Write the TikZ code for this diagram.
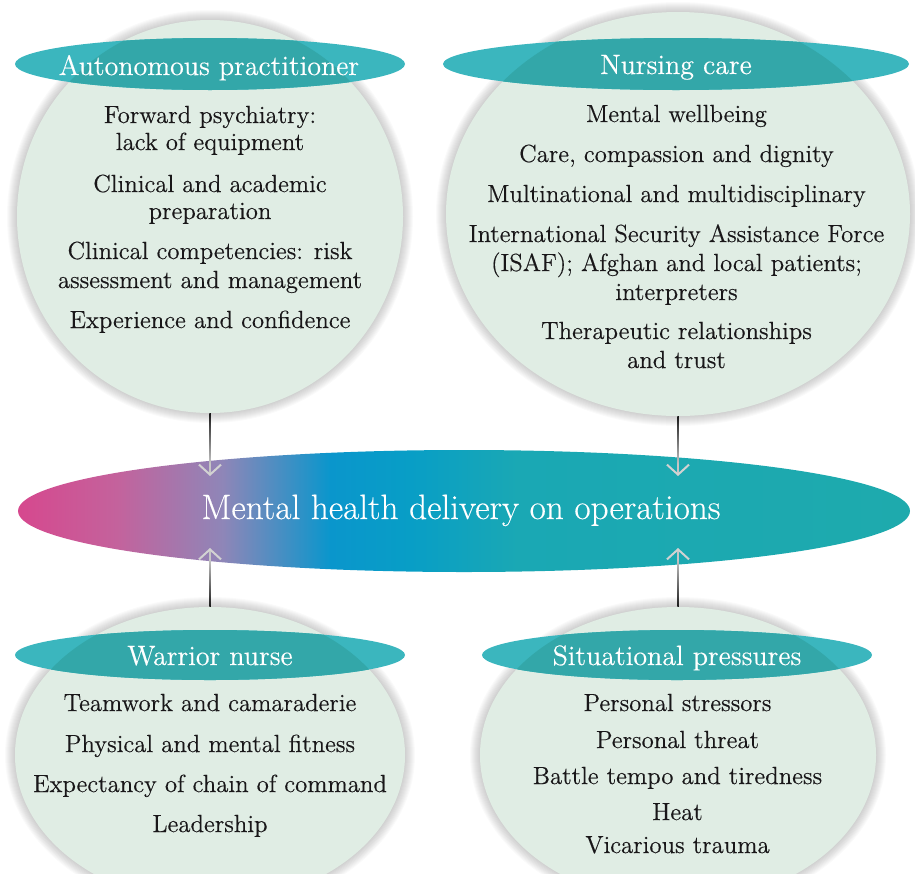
\documentclass[tikz,border=0pt]{standalone}
\usepackage{fontspec}
\setmainfont{Latin Modern Roman}[FakeBold=0.35]
\usetikzlibrary{shapes.geometric,arrows.meta,calc}
\definecolor{circfill}{RGB}{224,237,228}
\definecolor{hdrlight}{RGB}{59,182,190}
\definecolor{hdrdark}{RGB}{51,167,169}
\definecolor{bodytext}{RGB}{25,23,25}
\definecolor{gpink}{RGB}{214,72,142}
\definecolor{gpink2}{RGB}{196,98,156}
\definecolor{gpurple}{RGB}{142,134,184}
\definecolor{gblue}{RGB}{10,150,204}
\definecolor{gblue2}{RGB}{8,158,198}
\definecolor{gteal}{RGB}{26,168,180}
\definecolor{gteal2}{RGB}{30,170,173}
\pgfdeclarehorizontalshading{mhdshade}{100bp}{color(0bp)=(gpink); color(25bp)=(gpink); color(30.5bp)=(gpink2); color(36.5bp)=(gpurple); color(42.5bp)=(gblue); color(47bp)=(gblue2); color(53bp)=(gteal); color(75bp)=(gteal2); color(100bp)=(gteal2)}
\newcommand\softshadow[4]{%
  \foreach \d in {0.5,1,...,5}{%
    \fill[black,opacity=0.02] (#1,#2) ellipse [x radius={#3pt+\d pt}, y radius={#4pt+\d pt}];}}
\tikzset{
  circ/.style={ellipse, fill=circfill, inner sep=0pt},
  hdr/.style={ellipse, fill=hdrlight, inner sep=0pt},
  hdrtext/.style={text=white, font=\fontsize{14}{16}\selectfont, anchor=base, inner sep=0pt},
  item/.style={text=bodytext, font=\fontsize{12.4}{14}\selectfont, anchor=base, inner sep=0pt},
  bigtext/.style={text=white, font=\fontsize{17.6}{20}\selectfont, anchor=base, inner sep=0pt},
  conn/.style={draw=gray!45, line width=0.75pt, -{Straight Barb[length=5pt, width=11pt, line width=1pt, color=gray!35]}},
}
\begin{document}
\begin{tikzpicture}[x=0.5pt,y=-0.5pt]
\useasboundingbox (0,0) rectangle (915,873);
\clip (0,0) rectangle (915,873);
% shadows
\softshadow{210}{216.5}{96.5}{98.25}
\softshadow{678}{214}{116}{101}
\softshadow{210}{755}{97.5}{74}
\softshadow{678}{755}{99}{74}
% circles
\node[circ, minimum width=193pt, minimum height=196.5pt] (c1) at (210,216.5) {};
\node[circ, minimum width=232pt, minimum height=202pt] (c2) at (678,214) {};
\node[circ, minimum width=195pt, minimum height=148pt] (c3) at (210,755) {};
\node[circ, minimum width=198pt, minimum height=148pt] (c4) at (678,755) {};
% header ellipses
\node[hdr, minimum width=195pt, minimum height=26pt] (h1) at (210,64) {};
\node[hdr, minimum width=233pt, minimum height=26pt] (h2) at (676,64) {};
\node[hdr, minimum width=195pt, minimum height=25pt] (h3) at (210,655) {};
\node[hdr, minimum width=195pt, minimum height=25pt] (h4) at (677,655) {};
\begin{scope}
  \clip (210,216.5) ellipse [x radius=96.5pt, y radius=98.25pt];
  \fill[hdrdark] (210,64) ellipse [x radius=97.5pt, y radius=13pt];
\end{scope}
\begin{scope}
  \clip (678,214) ellipse [x radius=116pt, y radius=101pt];
  \fill[hdrdark] (676,64) ellipse [x radius=116.5pt, y radius=13pt];
\end{scope}
\begin{scope}
  \clip (210,755) ellipse [x radius=97.5pt, y radius=74pt];
  \fill[hdrdark] (210,655) ellipse [x radius=97.5pt, y radius=12.5pt];
\end{scope}
\begin{scope}
  \clip (678,755) ellipse [x radius=99pt, y radius=74pt];
  \fill[hdrdark] (677,655) ellipse [x radius=97.5pt, y radius=12.5pt];
\end{scope}
% header texts
\node[hdrtext] (h1t) at (209,75) {Autonomous practitioner};
\node[hdrtext] (h2t) at (676,74) {Nursing care};
\node[hdrtext] (h3t) at (210,665) {Warrior nurse};
\node[hdrtext] (h4t) at (677,665) {Situational pressures};
% top-left items
\node[item] (a1) at (210,123) {Forward psychiatry:};
\node[item] (a2) at (210,150) {lack of equipment};
\node[item] (a3) at (210,192) {Clinical and academic};
\node[item] (a4) at (210,219) {preparation};
\node[item] (a5) at (210,259) {Clinical competencies: risk};
\node[item] (a6) at (210,288) {assessment and management};
\node[item] (a7) at (210,328) {Experience and confidence};
% top-right items
\node[item] (b1) at (676.5,122) {Mental wellbeing};
\node[item] (b2) at (676.5,162) {Care, compassion and dignity};
\node[item] (b3) at (676.5,202) {Multinational and multidisciplinary};
\node[item] (b4) at (676.5,242) {International Security Assistance Force};
\node[item] (b5) at (676.5,271) {(ISAF); Afghan and local patients;};
\node[item] (b6) at (676.5,300) {interpreters};
\node[item] (b7) at (676.5,339) {Therapeutic relationships};
\node[item] (b8) at (676.5,368) {and trust};
% bottom-left items
\node[item] (d1) at (210,711) {Teamwork and camaraderie};
\node[item] (d2) at (210,752) {Physical and mental fitness};
\node[item] (d3) at (210,792) {Expectancy of chain of command};
\node[item] (d4) at (210,832) {Leadership};
% bottom-right items
\node[item] (e1) at (677.5,711) {Personal stressors};
\node[item] (e2) at (677.5,748) {Personal threat};
\node[item] (e3) at (677.5,784) {Battle tempo and tiredness};
\node[item] (e4) at (677.5,820) {Heat};
\node[item] (e5) at (677.5,853) {Vicarious trauma};
% central ellipse
\node[ellipse, shading=mhdshade, inner sep=0pt, minimum width=446pt, minimum height=61pt] (big) at (464,511) {};
\node[bigtext] (bigt) at (461,519) {Mental health delivery on operations};
% arrow targets
\coordinate (t1) at (210,476);
\coordinate (t2) at (678,476);
\coordinate (t3) at (210,548);
\coordinate (t4) at (678,548);
% connectors
\draw[conn] (c1.south) -- (t1);
\draw[conn] (c2.south) -- (t2);
\draw[conn] (c3.north) -- (t3);
\draw[conn] (c4.north) -- (t4);
\shade[top color=black!90, bottom color=gray!45] ($(c1.south)+(-0.75,0)$) rectangle ($(c1.south)!0.8!(t1)+(0.75,0)$);
\shade[top color=black!90, bottom color=gray!45] ($(c2.south)+(-0.75,0)$) rectangle ($(c2.south)!0.8!(t2)+(0.75,0)$);
\shade[bottom color=black!90, top color=gray!45] ($(c3.north)+(-0.75,0)$) rectangle ($(c3.north)!0.8!(t3)+(0.75,0)$);
\shade[bottom color=black!90, top color=gray!45] ($(c4.north)+(-0.75,0)$) rectangle ($(c4.north)!0.8!(t4)+(0.75,0)$);
\end{tikzpicture}
\end{document}
